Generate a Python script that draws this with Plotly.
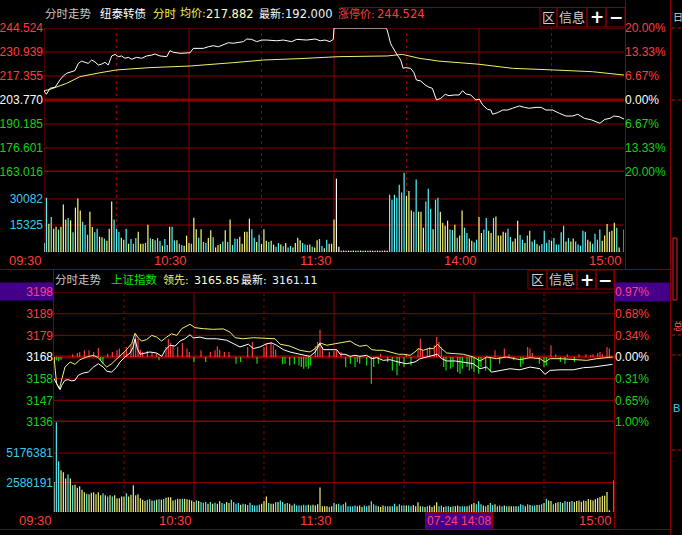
import plotly.graph_objects as go

W, H = 682, 535

# ================= DATA =================
# time axis: minutes since 09:30 with lunch removed (120 = 11:30 / 13:00, 240 = 15:00)
minutes = list(range(241))
time_ticks = [0, 60, 120, 180, 240]
time_top_labels = ["09:30", "10:30", "11:30", "14:00", "15:00"]
time_bottom_ticks = [0, 60, 120, 240]
time_bottom_labels = ["09:30", "10:30", "11:30", "15:00"]

# ---- 纽泰转债 (top panel) ----
bond_t = [0, 1, 2.5, 4.6, 6.6, 8, 9.4, 11.5, 12.8, 14.2, 15.6, 17, 18.3, 19.7, 21.1, 22.5, 23.9, 25.2, 26.6, 28,
          29.4, 30.7, 32.1, 33.5, 34.9, 36.3, 38.3, 40.4, 42.5, 44.6, 45.9, 48, 50.8, 52.1, 53.5, 56.3, 58.3, 60.4,
          61.8, 63.8, 65.9, 68, 70, 72.1, 74.2, 76.3, 78.3, 80.4, 82.5, 83.9, 85.9, 88, 90.1, 92.1, 96.3, 99, 102.5,
          104.6, 108.7, 112.2, 114.3, 116.3, 118.3, 119.7, 120,
          141.4, 142, 142.7, 143.4, 144.1, 144.8, 146.2, 147.6, 148.6, 149.7, 151.7, 153.1, 154.1, 155.9, 157.7,
          159.3, 160.7, 162.4, 164.2, 166, 167.6, 169.7, 171.8, 173.2, 174.6, 176.6, 178.7, 180.1, 181.5, 183.5,
          184.9, 185.6, 187.7, 189.8, 191.8, 193.9, 196.7, 198.8, 200.8, 203.6, 205.7, 207.7, 210.5, 213.3, 216,
          218.8, 220.9, 223.6, 226.6, 230, 232.1, 234.2, 235.8, 238, 240]
bond_price = [209.0, 207.0, 210.4, 211.0, 215.1, 217.4, 218.9, 219.8, 220.4, 224.5, 225.8, 225.1, 224.5, 226.4,
              225.3, 223.6, 224.1, 225.1, 223.6, 228.7, 229.6, 228.3, 228.7, 227.4, 227.9, 226.8, 227.9, 227.4,
              228.7, 229.2, 229.8, 228.7, 228.3, 231.7, 230.8, 230.2, 230.5, 230.5, 233.0, 233.0, 233.0, 233.9,
              234.5, 233.9, 234.9, 236.2, 235.9, 236.2, 236.8, 238.3, 238.1, 236.8, 237.7, 237.7, 237.3, 237.7,
              236.8, 238.1, 237.7, 238.3, 237.3, 237.7, 236.8, 238.1, 244.524,
              244.524, 243.4, 239.6, 235.9, 234.0, 232.1, 229.2, 226.4, 221.7, 222.1, 221.7, 219.2, 215.1, 214.5,
              212.3, 211.0, 210.4, 203.8, 204.7, 207.0, 206.2, 206.6, 206.6, 209.0, 207.2, 206.6, 203.8, 204.3,
              201.0, 198.5, 198.1, 195.7, 196.6, 198.1, 198.1, 199.1, 200.4, 199.6, 199.1, 199.6, 199.6, 198.1,
              198.1, 196.2, 194.7, 194.7, 195.7, 193.4, 192.5, 190.6, 192.8, 193.4, 194.7, 194.3, 193.0]
bond_avg_t = [0, 2.5, 9.4, 14.9, 23.2, 30.1, 43.9, 60.4, 78.3, 90.8, 105.9, 119.7, 122, 142, 148.3, 155.2, 163.4,
              180, 193.8, 210.3, 226.9, 240]
bond_avg = [209.0, 209.8, 213.2, 217.0, 219.2, 220.8, 222.1, 223.0, 224.9, 226.4, 227.2, 227.9, 228.3, 228.7,
            229.6, 227.4, 225.8, 224.0, 221.7, 220.8, 219.8, 217.9]
bond_vol = [5100, 30800, 16000, 19900, 13200, 14400, 12700, 14400, 26900, 18400,
            19300, 18000, 11200, 25200, 30300, 23500, 17200, 15300, 9800, 22900,
            14200, 11200, 13200, 8700, 8300, 7600, 6400, 13200, 28600, 18400,
            13200, 11400, 8100, 7000, 13200, 4700, 7400, 4700, 7900, 11500,
            4700, 4700, 5100, 15500, 7800, 7400, 6600, 7900, 6200, 3600,
            7400, 4000, 14400, 14400, 6600, 6600, 4700, 4000, 3600, 9300,
            5100, 4700, 19500, 12900, 8100, 12900, 5700, 5100, 7900, 12300,
            8300, 2600, 4000, 4500, 5900, 12300, 5700, 18400, 4000, 7600,
            7400, 8700, 4700, 11500, 11500, 18900, 12900, 8100, 5700, 9800,
            4500, 12900, 6400, 5700, 6400, 4200, 3000, 5100, 4200, 3200,
            5100, 2500, 3400, 2500, 5100, 8100, 6600, 5100, 4200, 4000,
            4200, 3000, 2600, 6600, 7400, 3400, 2100, 7000, 4700, 4700,
            18400,
            41600, 3000,
            700, 800, 700, 800, 700, 800, 700, 700, 800, 700, 800, 700, 800, 700, 700, 800, 700, 700, 800, 700,
            32500, 29700, 32500, 30800, 38200, 33700, 45000, 31800, 34600, 23500,
            22900, 41100, 22900, 22900, 13800, 28600, 35900, 24600, 12900, 29700,
            30800, 22900, 16600, 14900, 17800, 12700, 12500, 15500, 8100, 9300,
            23500, 13800, 10800, 7600, 6400, 5500, 7000, 19900, 10800, 12700,
            19300, 12100, 10800, 19300, 20100, 9300, 9300, 11500, 11000, 13200,
            8500, 5900, 7600, 17800, 9600, 7000, 5100, 9300, 12100, 5900,
            7000, 4500, 3600, 4500, 12100, 5300, 7000, 6400, 7900, 4200,
            4200, 11200, 14900, 5900, 7900, 5900, 7600, 5900, 4200, 3600,
            12100, 11500, 7000, 5900, 4700, 10400, 7000, 12700, 6400, 9300,
            15900, 11500, 12100, 16600, 13800, 2500, 0, 12700]
# w = unchanged, y = up tick, c = down tick
bond_vol_dir = ("wcycyycyyy" "cycyyycccy" "yccyycyyyc" "ccyycycccy" "yycycycccy" "ccyccyccyy"
                "ycyycyccyy" "cyyycycycc" "cyyyyyccyc" "yyycyyccyc" "yccyyyyccc" "ycyyccycyy" "y"
                "ww" "wwwwwwwwwwwwwwwwwwww"
                "cccccccyyy" "ccyyycccyc" "cyyyyccycy" "yccyyccyyc" "cyycyyyyyc" "cyyyccycyc"
                "cycccccycc" "cccycyyccc" "ccyyccccyy" "yyyycywc")
price_ticks = [163.016, 176.601, 190.185, 203.770, 217.355, 230.939, 244.524]
price_pct = ["20.00%", "13.33%", "6.67%", "0.00%", "6.67%", "13.33%", "20.00%"]
bond_vol_ticks = [15325, 30082]

# ---- 上证指数 (bottom panel) ----
idx_t = [0, 1.4, 2.6, 3.3, 4.7, 6.1, 7.6, 9.0, 10.4, 12.6, 14.7, 16.9, 19.0, 21.1, 22.6, 24.7, 26.9, 28.3, 30.4,
         32.6, 34.0, 34.7, 35.7, 36.9, 39.0, 41.1, 44.0, 46.2, 47.6, 49.7, 51.9, 54.0, 56.1, 58.3, 59.7, 62.6,
         65.4, 69.7, 74.0, 76.9, 79.7, 83.3, 85.4, 88.3, 91.1, 93.3, 95.4, 98.3, 101.1, 105.4, 109.7, 111.9,
         114.0, 115.4, 118.3, 121.2,
         122.6, 124.7, 126.9, 129, 131.1, 134, 136.2, 138.3, 141.1, 144, 147.6, 151, 154.7, 156.9, 159.7, 162.6,
         164.3, 166.2, 168.3, 171.9, 175.4, 179.7, 182.6, 185.4, 187.6, 191.1, 195.4, 199.7, 204, 208.3, 210.4,
         212.6, 216.9, 222.6, 226.9, 231.1, 235.4, 239.4]
idx_price = [3157.2, 3154.0, 3151.9, 3154.0, 3156.4, 3156.7, 3156.1, 3156.4, 3158.8, 3159.9, 3160.3, 3162.7,
             3164.3, 3162.7, 3160.7, 3160.3, 3162.7, 3165.1, 3167.5, 3169.4, 3172.3, 3176.2, 3171.5, 3168.8,
             3169.4, 3169.9, 3169.4, 3167.8, 3170.7, 3173.1, 3172.7, 3175.1, 3176.2, 3178.1, 3176.6, 3177.0,
             3176.2, 3176.2, 3175.5, 3173.8, 3172.3, 3173.6, 3171.5, 3172.3, 3173.8, 3174.2, 3173.1, 3171.0,
             3169.9, 3168.8, 3167.8, 3169.9, 3173.8, 3171.0, 3171.0, 3171.0,
             3168.8, 3168.8, 3167.8, 3168.3, 3167.8, 3168.3, 3166.7, 3167.2, 3165.9, 3166.2, 3165.1, 3164.3,
             3165.1, 3166.7, 3167.5, 3168.3, 3168.8, 3166.7, 3165.6, 3165.6, 3165.1, 3164.3, 3161.9, 3162.7,
             3160.3, 3161.1, 3161.9, 3161.4, 3162.7, 3161.9, 3159.2, 3161.1, 3161.4, 3161.4, 3162.4, 3162.7,
             3163.5, 3164.0]
lead_t = [0, 0.4, 1.1, 2.3, 3.3, 4.7, 6.9, 9.0, 11.1, 14.0, 16.9, 19.0, 21.1, 22.6, 24.7, 26.9, 29.0, 31.1, 33.3,
          34.7, 36.1, 37.6, 39.7, 41.9, 44.0, 46.1, 48.3, 50.4, 52.6, 54.7, 58.3, 60.4, 64.0, 68.3, 72.6, 75.4,
          77.6, 81.1, 85.4, 91.1, 94.7, 96.9, 101.1, 105.4, 109.7, 111.9, 114.0, 116.9, 119.7, 122.6,
          124.7, 126.9, 129, 131.1, 134, 136.2, 138.3, 141.1, 144, 147.6, 149.7, 152.6, 154.7, 156.1, 158.3,
          160.4, 162.6, 164.4, 166.1, 168.3, 171.9, 175.4, 179.7, 182.6, 185.4, 189.7, 194, 199.7, 204, 208.3,
          210.4, 212.6, 216.9, 222.6, 228.3, 232.6, 236.9, 239.4]
lead_price = [3167.5, 3162.7, 3154.8, 3152.4, 3156.4, 3162.7, 3165.1, 3164.0, 3166.2, 3167.5, 3168.3, 3167.2,
              3164.3, 3162.7, 3164.3, 3166.7, 3168.8, 3171.0, 3173.9, 3178.8, 3176.6, 3175.1, 3175.8, 3177.8,
              3177.0, 3175.1, 3177.0, 3178.6, 3177.8, 3181.0, 3183.1, 3181.5, 3181.0, 3180.7, 3180.9, 3179.4,
              3176.7, 3176.2, 3176.7, 3176.6, 3176.2, 3173.6, 3172.7, 3170.7, 3169.9, 3171.5, 3174.2, 3173.1,
              3173.6, 3174.2,
              3174.7, 3175.1, 3173.6, 3172.6, 3173.1, 3171.0, 3170.7, 3170.7, 3169.9, 3168.8, 3168.8, 3168.3,
              3169.9, 3171.5, 3170.7, 3171.5, 3171.5, 3173.6, 3171.5, 3169.4, 3169.1, 3168.8, 3167.5, 3165.6,
              3167.5, 3166.7, 3167.5, 3166.2, 3167.2, 3166.7, 3165.1, 3166.7, 3166.7, 3166.2, 3165.9, 3166.7,
              3167.2, 3167.5]
idx_prev_close = 3167.5
# buy/sell strength bars (points from prev close)
bs_t = [0, 1, 2, 3, 8, 10, 11, 13, 15, 17, 19, 20, 21, 23, 25, 27, 28, 30, 31, 33, 34, 35, 36, 37, 38, 40, 42,
        44, 45, 48, 49, 50, 51, 53, 55, 57, 58, 60, 63, 65, 67, 69, 70, 71, 73, 75, 78, 80, 83, 85, 87, 90, 91,
        93, 94, 95, 98, 99, 101, 103, 105, 106, 107, 108, 109, 110, 112, 113, 114, 115, 118, 120, 121,
        123, 125, 127, 129, 130, 131, 134, 136, 137, 139, 140, 143, 145, 147, 148, 150, 151, 153, 156, 157,
        158, 160, 161, 163, 164, 165, 166, 167, 168, 170, 171, 173, 174, 175, 177, 178, 179, 180, 182, 183,
        185, 187, 189, 191, 193, 195, 197, 200, 201, 203, 204, 205, 208, 210, 211, 213, 215, 217, 219, 220,
        223, 225, 228, 230, 231, 233, 234, 235, 237, 238]
bs_v = [-2.4, -1.6, -1.9, -1.3, 1.3, 1.9, 2.4, 3.2, 3.2, 2.4, 4.3, -1.6, -3.2, 1.6, 2.4, 3.2, 4.0, 2.4, 4.8, 6.0,
        7.2, 11.1, 8.7, 3.5, 2.4, 2.9, 2.4, 1.9, -1.6, 4.8, 8.7, 6.7, 5.6, 4.8, 6.7, 4.0, 2.4, -2.4, 3.2, -2.4,
        2.4, 3.2, 5.1, 3.5, 2.4, 2.4, -3.2, -2.4, 4.8, 7.2, -3.2, 4.8, 6.4, 7.2, 5.6, 3.5, -3.5, -3.2, -4.0,
        -3.5, -4.0, -4.8, -5.6, -4.8, -5.6, -4.0, 5.1, 7.2, 13.0, 4.8, 2.4, 2.9, 3.2,
        2.4, -4.8, -3.2, -4.8, -2.4, -3.2, -4.0, -12.7, -4.8, -3.2, 1.6, -2.4, -6.4, -8.7, -4.0, -4.8, 1.6,
        -4.0, 4.0, 8.7, 3.2, 4.0, 4.8, 5.6, 9.5, 7.2, 4.8, -4.8, -6.4, -5.6, -4.8, -7.2, -8.0, -5.6, -4.8,
        -6.4, -5.6, -7.2, -8.0, -4.8, -6.4, -7.2, 3.2, -3.2, 4.0, 1.3, -1.6, -4.8, -3.2, 4.8, 4.0, 1.9, -3.2,
        -4.8, -4.0, 5.6, 1.3, -2.4, -3.2, 1.3, -2.4, 1.3, 1.3, 0.8, 1.3, 1.9, 2.4, 1.3, 4.8, 4.0]
# index volume in millions
idx_vol_m = [2.63, 7.87, 4.45, 3.66, 3.48, 2.95, 3.30, 2.95, 2.34, 2.40,
             2.13, 2.25, 1.96, 1.73, 1.61, 1.55, 1.70, 1.73, 1.55, 1.73,
             1.46, 1.64, 1.46, 1.37, 1.46, 1.37, 1.46, 1.20, 1.20, 1.35,
             1.35, 1.64, 1.37, 1.52, 2.34, 1.46, 1.55, 1.20, 1.08, 0.97,
             1.08, 1.11, 1.02, 1.02, 1.08, 1.11, 1.08, 1.14, 1.26, 1.29,
             1.29, 1.02, 1.08, 1.17, 1.14, 1.17, 1.17, 1.11, 1.08, 1.02,
             0.88, 1.02, 0.97, 0.88, 0.82, 0.88, 0.73, 0.88, 0.73, 0.82,
             0.73, 0.94, 0.79, 0.73, 0.88, 0.79, 1.08, 0.88, 0.73, 0.79,
             0.64, 0.73, 0.67, 0.61, 0.82, 0.61, 0.58, 0.58, 0.64, 0.73,
             0.97, 1.37, 0.79, 0.73, 0.73, 0.85, 0.88, 1.02, 0.88, 0.73,
             0.79, 0.73, 0.58, 0.73, 0.58, 0.58, 0.58, 0.64, 0.58, 0.64,
             0.58, 0.64, 0.58, 0.67, 2.16, 0.50, 0.50, 0.50, 0.44, 0.50,
             0.79,
             0.67, 0.73,
             0.58, 0.67, 0.85, 0.50, 0.50, 0.50, 0.56, 0.50, 0.56, 0.44,
             0.56, 0.50, 0.56, 0.94, 0.67, 0.56, 0.50, 0.44, 0.56, 0.50,
             0.50, 0.50, 0.50, 0.73, 0.50, 0.67, 0.56, 0.56, 0.56, 0.56,
             0.50, 0.61, 0.50, 0.85, 0.50, 0.50, 0.44, 0.50, 0.56, 0.44,
             0.56, 0.85, 0.50, 0.56, 0.44, 0.50, 0.50, 0.44, 0.50, 0.50,
             0.56, 0.50, 0.50, 0.50, 0.50, 0.56, 0.67, 0.79, 0.67, 0.94,
             0.67, 0.56, 0.50, 0.61, 0.79, 0.61, 0.67, 0.50, 0.56, 0.50,
             0.56, 0.50, 0.50, 0.50, 0.50, 0.50, 0.50, 0.67, 0.61, 0.50,
             0.67, 0.61, 0.56, 0.56, 0.61, 0.61, 0.67, 0.79, 1.17, 1.02,
             0.97, 0.67, 0.79, 0.85, 0.88, 0.79, 0.97, 0.91, 0.91, 0.97,
             0.88, 0.97, 1.02, 0.91, 1.02, 0.97, 1.14, 1.08, 1.02, 1.11,
             1.23, 1.32, 1.43, 1.43, 1.76, 0.15,
             0.0, 2.78]
idx_vol_dir = ("wccyyycycy" "yyyycyyyyy" "ycycycyyyy" "ycyyyyyyyy" "ccycycycyy" "yycyycyyyy"
               "ycycccycyc" "yyccyycccc" "ycyccccccy" "yycyycyccy" "cyyccccccy" "cyyyyyyycy" "c"
               "yc"
               "cccccccyyy" "ccycccyyyc" "cyccycccyc" "cyyyycycyy" "yyccyccycy" "ycccycyycc"
               "cycyccyccc" "ycyycycccy" "cyccyccycy" "ycyycyccyc" "yyyyyyyyyy" "yyyyyy"
               "wc")
idx_tick_labels = ["3136", "3147", "3158", "3168", "3179", "3189", "3198"]
idx_pct_labels = ["1.00%", "0.65%", "0.31%", "0.00%", "0.34%", "0.68%", "0.97%"]
idx_step = 10.333
idx_vol_ticks = [2.588191, 5.176381]
idx_vol_tick_labels = ["2588191", "5176381"]

# ================= STYLE =================
GRID = "#8a0000"
RED = "#ff3c3c"
GREEN = "#14d214"
WHITE = "#ffffff"
CYAN_LBL = "#3cc8f5"
YEL = "#f0f060"
VOL_COL = {"w": "#ffffff", "y": "#f6f67a", "c": "#54f4fa"}
NUM_FONT = "Liberation Sans, Arial, Noto Sans CJK SC"
CJK_FONT = "DejaVu Sans, Noto Sans CJK SC"
BAR_W = 0.5


def span(s, c):
    return '<span style="color:%s">%s</span>' % (c, s)


def ypx(p):
    return 1 - p / H


def xpx(p):
    return p / W


n_top = min(len(bond_vol), len(bond_vol_dir))
n_bot = min(len(idx_vol_m), len(idx_vol_dir))

fig = go.Figure()

# ---- top panel traces ----
fig.add_trace(go.Bar(x=minutes[:n_top], y=bond_vol[:n_top],
                     marker=dict(color=[VOL_COL[d] for d in bond_vol_dir[:n_top]], line=dict(width=0)),
                     width=BAR_W, xaxis="x", yaxis="y3", hoverinfo="skip"))
fig.add_trace(go.Scatter(x=bond_avg_t, y=bond_avg, mode="lines", line=dict(color="#f0f070", width=1),
                         xaxis="x", yaxis="y", hoverinfo="skip"))
fig.add_trace(go.Scatter(x=bond_t, y=bond_price, mode="lines", line=dict(color=WHITE, width=1),
                         xaxis="x", yaxis="y", hoverinfo="skip"))
fig.add_trace(go.Scatter(x=[0], y=[price_ticks[0]], mode="markers", marker=dict(opacity=0),
                         xaxis="x", yaxis="y2", hoverinfo="skip"))

# ---- bottom panel traces ----
fig.add_trace(go.Bar(x=minutes[:n_bot], y=idx_vol_m[:n_bot],
                     marker=dict(color=[VOL_COL[d] for d in idx_vol_dir[:n_bot]], line=dict(width=0)),
                     width=BAR_W, xaxis="x2", yaxis="y6", hoverinfo="skip"))
fig.add_trace(go.Bar(x=bs_t, y=bs_v, base=idx_prev_close,
                     marker=dict(color=[RED if v > 0 else "#10e010" for v in bs_v], line=dict(width=0)),
                     width=BAR_W, xaxis="x2", yaxis="y4", hoverinfo="skip"))
fig.add_trace(go.Scatter(x=lead_t, y=lead_price, mode="lines", line=dict(color="#f0f070", width=1),
                         xaxis="x2", yaxis="y4", hoverinfo="skip"))
fig.add_trace(go.Scatter(x=idx_t, y=idx_price, mode="lines", line=dict(color=WHITE, width=1),
                         xaxis="x2", yaxis="y4", hoverinfo="skip"))
fig.add_trace(go.Scatter(x=[0], y=[3168], mode="markers", marker=dict(opacity=0),
                         xaxis="x2", yaxis="y5", hoverinfo="skip"))

common = dict(showgrid=False, zeroline=False, showline=False, ticks="", fixedrange=True, automargin=False)


def tick_colors(n_low, n_base, n_high):
    return [GREEN] * n_low + [WHITE] * n_base + [RED] * n_high


price_cols = tick_colors(3, 1, 3)
idx_vals = [idx_prev_close + k * idx_step for k in range(-3, 4)]
idx_cols = tick_colors(3, 1, 2) + ["#ff4080"]

fig.update_layout(
    width=W, height=H, margin=dict(l=0, r=0, t=0, b=0),
    paper_bgcolor="#000000", plot_bgcolor="#000000", showlegend=False, barmode="overlay",
    xaxis=dict(domain=[xpx(44), xpx(624)], range=[0, 240], anchor="y3", showticklabels=False, **common),
    xaxis2=dict(domain=[xpx(54), xpx(614)], range=[0, 240], anchor="y6", showticklabels=False, **common),
    yaxis=dict(domain=[ypx(172), ypx(28)], range=[price_ticks[0], price_ticks[-1]], anchor="x",
               tickvals=price_ticks, ticktext=[span("%.3f" % v, c) for v, c in zip(price_ticks, price_cols)],
               tickfont=dict(family=NUM_FONT, size=12), **common),
    yaxis2=dict(overlaying="y", side="right", anchor="x", range=[price_ticks[0], price_ticks[-1]],
                tickvals=price_ticks, ticktext=[span(p, c) for p, c in zip(price_pct, price_cols)],
                tickfont=dict(family=NUM_FONT, size=12), **common),
    yaxis3=dict(domain=[ypx(252), ypx(172)], range=[0, 45400], anchor="x",
                tickvals=bond_vol_ticks, ticktext=[str(v) for v in bond_vol_ticks],
                tickfont=dict(family=NUM_FONT, size=12, color=CYAN_LBL), **common),
    yaxis4=dict(domain=[ypx(422), ypx(292)], range=[idx_vals[0], idx_vals[-1]], anchor="x2",
                tickvals=idx_vals, ticktext=[span(s, c) for s, c in zip(idx_tick_labels, idx_cols)],
                tickfont=dict(family=NUM_FONT, size=12), **common),
    yaxis5=dict(overlaying="y4", side="right", anchor="x2", range=[idx_vals[0], idx_vals[-1]],
                tickvals=idx_vals, ticktext=[span(s, c) for s, c in zip(idx_pct_labels, idx_cols)],
                tickfont=dict(family=NUM_FONT, size=12), **common),
    yaxis6=dict(domain=[ypx(512), ypx(422)], range=[0, 7.9], anchor="x2",
                tickvals=idx_vol_ticks, ticktext=idx_vol_tick_labels,
                tickfont=dict(family=NUM_FONT, size=12, color=CYAN_LBL), **common),
)

shapes = []


def pline(x0, y0, x1, y1, width=1, dash="solid", color=GRID, layer="below"):
    shapes.append(dict(type="line", xref="paper", yref="paper", x0=xpx(x0), x1=xpx(x1), y0=ypx(y0), y1=ypx(y1),
                       line=dict(color=color, width=width, dash=dash), layer=layer))


def prect(x0, y0, x1, y1, fill="rgba(0,0,0,0)", line=GRID, layer="below"):
    shapes.append(dict(type="rect", xref="paper", yref="paper", x0=xpx(x0), x1=xpx(x1), y0=ypx(y0), y1=ypx(y1),
                       fillcolor=fill, line=dict(color=line, width=1), layer=layer))


def hgrid(xref, yref, v, width=1):
    shapes.append(dict(type="line", xref=xref, yref=yref, x0=0, x1=240, y0=v, y1=v,
                       line=dict(color=GRID, width=width), layer="below"))


def vgrid(xref, t, ytop, ybot, dash="solid"):
    shapes.append(dict(type="line", xref=xref, yref="paper", x0=t, x1=t, y0=ypx(ybot), y1=ypx(ytop),
                       line=dict(color=GRID, width=1, dash=dash), layer="below"))


# top panel grid
for v in price_ticks:
    hgrid("x", "y", v, 3 if v in (price_ticks[0], price_ticks[3]) else 1)
for v in [0] + bond_vol_ticks:
    hgrid("x", "y3", v)
for t in (0, 60, 120, 180):
    vgrid("x", t, 28, 252)
for t in (30, 90, 150, 210):
    vgrid("x", t, 28, 252, "dot")
# bottom panel grid
for i, v in enumerate(idx_vals):
    hgrid("x2", "y4", v, 3 if i in (0, 3) else 1)
for v in [0] + idx_vol_ticks:
    hgrid("x2", "y6", v)
for t in (60, 120, 180):
    vgrid("x2", t, 292, 512)
for t in (30, 90, 150, 210):
    vgrid("x2", t, 292, 512, "dot")

# frame lines
pline(625.5, 0, 625.5, 269)
pline(670.5, 0, 670.5, 535)
pline(0, 269.5, 670, 269.5)
pline(0, 529.5, 670, 529.5)
pline(53.5, 269, 53.5, 512)
pline(614.5, 269, 614.5, 529)
pline(340, 7.5, 625, 7.5)

# purple highlight boxes
prect(0, 283, 53, 300, fill="#45008a", line="#45008a")
prect(615, 283, 669, 301, fill="#45008a", line="#45008a")

# buttons
for (x0, x1) in [(540, 557), (557, 587), (587, 606), (606, 625)]:
    prect(x0, 7.5, x1, 27)
for (x0, x1) in [(528, 547), (547, 577), (577, 596), (596, 614)]:
    prect(x0, 270, x1, 289)

# right strip decorations
prect(673, 238, 677, 300, line="#e02020")
for yy in (28, 100, 335, 355, 450):
    pline(672, yy, 682, yy, dash="dot", color="#c01010")

fig.update_layout(shapes=shapes)

ann = []


def text(x, y, s, color, size=11.5, family=CJK_FONT, xanchor="left", **kw):
    ann.append(dict(xref="paper", yref="paper", x=xpx(x), y=ypx(y), text=s, showarrow=False,
                    xanchor=xanchor, yanchor="middle", font=dict(family=family, size=size, color=color), **kw))


# top title
text(43, 14, "分时走势", "#c8c8c8")
text(98, 14, "纽泰转债", WHITE)
text(151, 14, "分时", YEL)
text(178, 14, "均价:", YEL, size=11)
text(204, 14, "217.882", "#ffffc8", size=11.5)
text(257, 14, "最新:", WHITE, size=11)
text(283, 14, "192.000", "#e6f4ff", size=11.5)
text(336, 14, "涨停价:", RED, size=11)
text(375, 14, "244.524", RED, size=11.5)
# bottom title
text(53, 280, "分时走势", "#c8c8c8")
text(109, 280, "上证指数", "#10e010")
text(161, 280, "领先:", YEL, size=11)
text(192, 280, "3165.85", "#ffffc8", size=11)
text(239, 280, "最新:", WHITE, size=11)
text(270, 280, "3161.11", "#e6f4ff", size=11)

# buttons text
for cx, cy in [(548.5, 17), (537.5, 279.5)]:
    text(cx, cy, "区", "#d0d0d0", size=13, xanchor="center")
for cx, cy in [(572, 17), (562, 279.5)]:
    text(cx, cy, "信息", "#d0d0d0", size=13, xanchor="center")
for cx, cy in [(596.5, 17), (586.5, 279.5)]:
    text(cx, cy, "<b>+</b>", WHITE, size=17, xanchor="center")
for cx, cy in [(615.5, 17), (605, 279.5)]:
    text(cx, cy, "<b>−</b>", WHITE, size=17, xanchor="center")

# time labels
for t, s in zip(time_ticks, time_top_labels):
    ann.append(dict(xref="x", yref="paper", x=t, y=ypx(260), text=s, showarrow=False, xanchor="right",
                    yanchor="middle", font=dict(family=NUM_FONT, size=13, color=RED)))
for t, s in zip(time_bottom_ticks, time_bottom_labels):
    ann.append(dict(xref="x2", yref="paper", x=t, y=ypx(520), text=s, showarrow=False, xanchor="right",
                    yanchor="middle", font=dict(family=NUM_FONT, size=13, color=RED)))
# cursor time box
text(459, 520.5, "07-24 14:08", "#ff4070", size=12, family=NUM_FONT, xanchor="center",
     bgcolor="#45008a", bordercolor="#8a0000", borderwidth=1, borderpad=1)

# right strip partial texts
text(670.5, 17, "日", "#d0d0d0", size=10)
text(670.5, 326, "总", "#ff5050", size=10)
text(670.5, 408, "B", "#3cc8f5", size=11, family=NUM_FONT)

fig.update_layout(annotations=ann)

fig.write_html("out.html", config={"displayModeBar": False, "staticPlot": True},
               post_script="document.body.style.margin='0px';document.body.style.overflow='hidden';")
